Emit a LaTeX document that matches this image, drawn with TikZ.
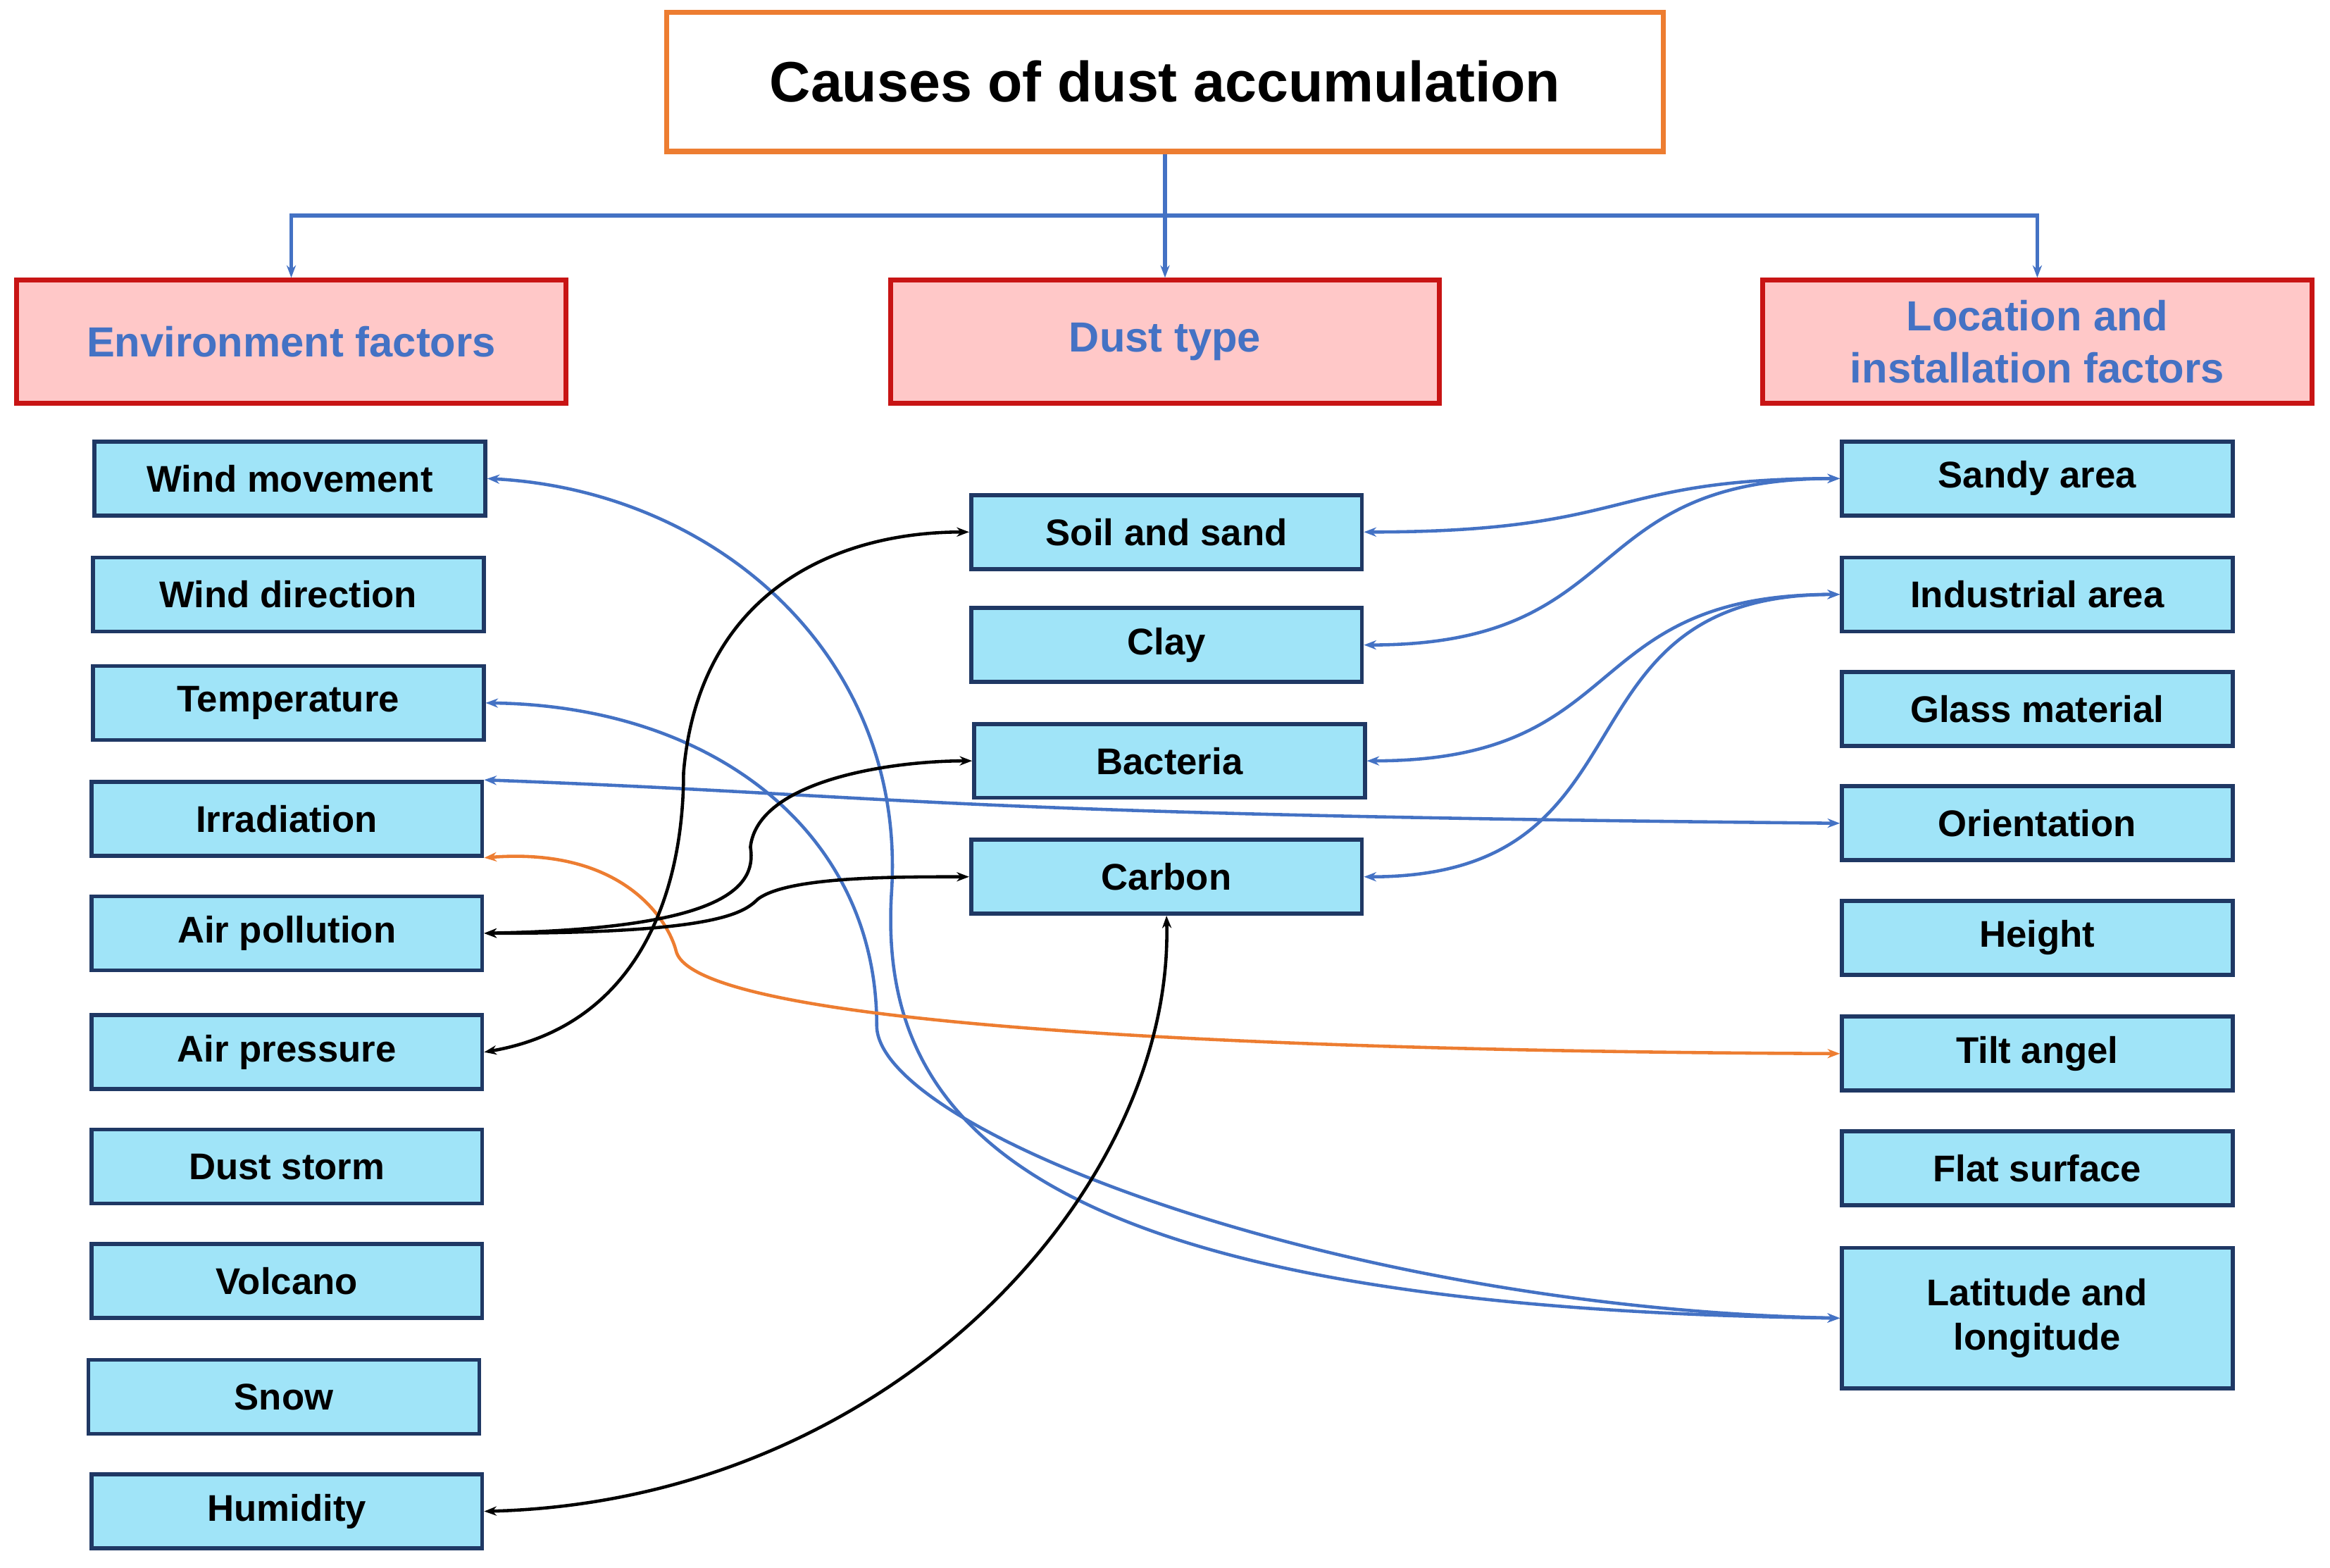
\documentclass[tikz,border=0pt]{standalone}
\usepackage{fontspec}
\setmainfont{Liberation Sans}
\usetikzlibrary{arrows.meta,positioning}
\definecolor{boxfill}{RGB}{160,228,248}
\definecolor{boxline}{RGB}{31,56,100}
\definecolor{hdfill}{RGB}{255,200,200}
\definecolor{hdline}{RGB}{200,20,20}
\definecolor{bl}{RGB}{68,114,196}
\definecolor{og}{RGB}{237,125,49}
\tikzset{
  item/.style={draw=boxline,line width=1.6pt,fill=boxfill,minimum width=5.55cm,minimum height=1.05cm,font=\bfseries\fontsize{15}{18}\selectfont,align=center},
  head/.style={draw=hdline,line width=2pt,fill=hdfill,minimum width=7.8cm,minimum height=1.75cm,font=\bfseries\fontsize{17}{21}\selectfont,text=bl,align=center},
  link/.style={line width=1.3pt,{Stealth[length=5pt]}-{Stealth[length=5pt]}}
}
\begin{document}
\begin{tikzpicture}[x=0.0211cm,y=-0.0211cm]
  \useasboundingbox (0,0) rectangle (1568,1055);
  \node[draw=og,line width=2pt,minimum width=14.15cm,minimum height=1.98cm,font=\bfseries\fontsize{23}{27}\selectfont] (title) at (784,55) {Causes of dust accumulation};
  \node[head] (env) at (196,230) {Environment factors};
  \node[head] (dust) at (784,230) {Dust type};
  \node[head] (loc) at (1371,230) {Location and\\installation factors};
  % tree
  \coordinate (fork) at (784,145);
  \draw[bl,line width=1.5pt,-{Stealth[length=5pt]}] (title.south) -- (dust.north);
  \draw[bl,line width=1.5pt,-{Stealth[length=5pt]}] (fork) -| (env.north);
  \draw[bl,line width=1.5pt,-{Stealth[length=5pt]}] (fork) -| (loc.north);
  % left column
  \node[item] (wm) at (195,322) {Wind movement};
  \node[item] (wd) at (194,400) {Wind direction};
  \node[item] (temp) at (194,473) {Temperature};
  \node[item] (irr) at (193,551) {Irradiation};
  \node[item] (ap) at (193,628) {Air pollution};
  \node[item] (apr) at (193,708) {Air pressure};
  \node[item] (ds) at (193,785) {Dust storm};
  \node[item] (vol) at (193,862) {Volcano};
  \node[item] (snow) at (191,940) {Snow};
  \node[item] (hum) at (193,1017) {Humidity};
  % middle column
  \node[item] (soil) at (785,358) {Soil and sand};
  \node[item] (clay) at (785,434) {Clay};
  \node[item] (bact) at (787,512) {Bacteria};
  \node[item] (carb) at (785,590) {Carbon};
  % right column
  \node[item] (sandy) at (1371,322) {Sandy area};
  \node[item] (ind) at (1371,400) {Industrial area};
  \node[item] (glass) at (1371,477) {Glass material};
  \node[item] (ori) at (1371,554) {Orientation};
  \node[item] (hgt) at (1371,631) {Height};
  \node[item] (tilt) at (1371,709) {Tilt angel};
  \node[item] (flat) at (1371,786) {Flat surface};
  \node[item,minimum height=2cm] (lat) at (1371,887) {Latitude and\\longitude};
  % blue links
  \draw[link,bl] (sandy.west) .. controls (1080,322) and (1100,358) .. (soil.east);
  \draw[link,bl] (sandy.west) .. controls (1060,322) and (1100,434) .. (clay.east);
  \draw[link,bl] (ind.west) .. controls (1060,400) and (1100,512) .. (bact.east);
  \draw[link,bl] (ind.west) .. controls (1040,400) and (1120,590) .. (carb.east);
  \draw[link,bl] (irr.north east) .. controls (620,536) and (620,548) .. (ori.west);
  \draw[link,bl] (lat.west) .. controls (700,880) and (590,760) .. (600,600) .. controls (610,440) and (480,330) .. (wm.east);
  \draw[link,bl] (lat.west) .. controls (900,880) and (590,760) .. (590,690) .. controls (590,560) and (480,475) .. (temp.east);
  % orange link
  \draw[link,og] (irr.south east) .. controls (420,570) and (450,620) .. (455,640) .. controls (470,700) and (1000,708) .. (tilt.west);
  % black links
  \draw[link,black] (ap.east) .. controls (480,625) and (510,600) .. (505,570) .. controls (510,525) and (600,512) .. (bact.west);
  \draw[link,black] (ap.east) .. controls (480,628) and (500,615) .. (510,605) .. controls (530,590) and (600,590) .. (carb.west);
  \draw[link,black] (apr.east) .. controls (430,690) and (460,600) .. (460,520) .. controls (470,400) and (560,358) .. (soil.west);
  \draw[link,black] (hum.east) .. controls (600,1010) and (790,800) .. (carb.south);
\end{tikzpicture}
\end{document}
